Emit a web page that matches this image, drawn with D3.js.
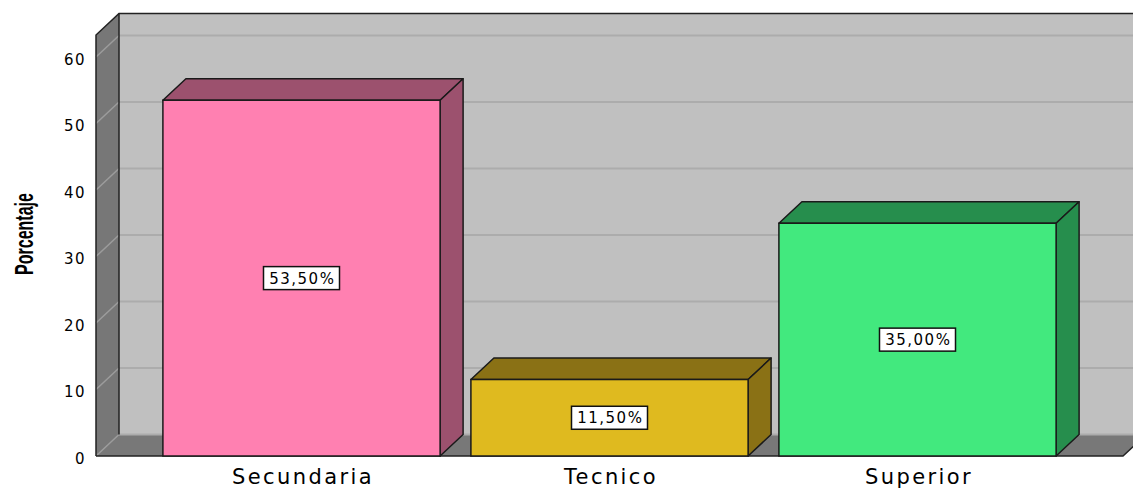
<!DOCTYPE html>
<html>
<head>
<meta charset="utf-8">
<script src="https://cdn.jsdelivr.net/npm/d3@7"></script>
<style>
    body { margin: 0; background: #fff; }
    svg { display: block; }
    text { font-family: "DejaVu Sans", Verdana, sans-serif; fill: #000; }
</style>
</head>
<body>
<script>
var categories = ["Secundaria", "Tecnico", "Superior"];
var percentages = [53.5, 11.5, 35.0];
var valueLabels = ["53,50%", "11,50%", "35,00%"];
var yTicks = [0, 10, 20, 30, 40, 50, 60];
var yTitle = "Porcentaje";

var width = 1133,
    height = 489;

// front plane and 3D depth offset
var left = 96, right = 1123, bottom = 456, wallTopValue = 63.3;
var dx = 23, dy = -21.5;

var frontColor = d3.scaleOrdinal().domain(categories).range(["#ff80b1", "#dfba1f", "#42e97e"]);
var sideColor = d3.scaleOrdinal().domain(categories).range(["#9c516e", "#8a7115", "#268e4d"]);

var x = d3.scaleBand()
    .domain(categories)
    .range([147.5, 1071.5])
    .paddingInner(0.1)
    .paddingOuter(0.05);

var y = d3.scaleLinear()
    .domain([0, 60])
    .range([bottom, 57]);

var svg = d3.select("body").append("svg")
    .attr("width", width)
    .attr("height", height);

var wallTop = y(wallTopValue);

function pts(a) {
    return a.map(function (p) { return p.join(","); }).join(" ");
}

// back wall
svg.append("polygon")
    .attr("points", pts([[left + dx, wallTop + dy], [right + dx, wallTop + dy], [right + dx, bottom + dy], [left + dx, bottom + dy]]))
    .attr("fill", "#c0c0c0");

// left wall
svg.append("polygon")
    .attr("points", pts([[left, wallTop], [left + dx, wallTop + dy], [left + dx, bottom + dy], [left, bottom]]))
    .attr("fill", "#777777");

// floor
svg.append("polygon")
    .attr("points", pts([[left, bottom], [right, bottom], [right + dx, bottom + dy], [left + dx, bottom + dy]]))
    .attr("fill", "#787878");

// grid lines on back wall and left wall
svg.selectAll(".grid")
    .data(yTicks)
    .enter().append("line")
    .attr("class", "grid")
    .attr("x1", left + dx)
    .attr("x2", right + dx)
    .attr("y1", function (d) { return y(d) + dy; })
    .attr("y2", function (d) { return y(d) + dy; })
    .attr("stroke", "#acacac")
    .attr("stroke-width", 2);

svg.selectAll(".sidegrid")
    .data(yTicks)
    .enter().append("line")
    .attr("class", "sidegrid")
    .attr("x1", left)
    .attr("x2", left + dx)
    .attr("y1", function (d) { return y(d); })
    .attr("y2", function (d) { return y(d) + dy; })
    .attr("stroke", "#9c9c9c")
    .attr("stroke-width", 1.5);

// frame edges
svg.append("path")
    .attr("d", "M" + left + "," + bottom + "L" + left + "," + wallTop + "L" + (left + dx) + "," + (wallTop + dy) +
        "L" + (right + dx + 20) + "," + (wallTop + dy))
    .attr("fill", "none")
    .attr("stroke", "#222")
    .attr("stroke-width", 1.5);

svg.append("line")
    .attr("x1", left + dx).attr("x2", left + dx)
    .attr("y1", wallTop + dy).attr("y2", bottom + dy)
    .attr("stroke", "#222")
    .attr("stroke-width", 1.5);

svg.append("path")
    .attr("d", "M" + left + "," + bottom + "L" + right + "," + bottom + "L" + (right + dx) + "," + (bottom + dy))
    .attr("fill", "none")
    .attr("stroke", "#222")
    .attr("stroke-width", 1.5);

// bars
var bars = svg.selectAll(".bar")
    .data(categories)
    .enter().append("g")
    .attr("class", "bar");

bars.append("polygon")
    .attr("points", function (d, i) {
        var x0 = x(d), x1 = x(d) + x.bandwidth(), yt = y(percentages[i]);
        return pts([[x0, yt], [x0 + dx, yt + dy], [x1 + dx, yt + dy], [x1, yt]]);
    })
    .attr("fill", function (d) { return sideColor(d); })
    .attr("stroke", "#1a1a1a")
    .attr("stroke-width", 1.5)
    .attr("stroke-linejoin", "round");

bars.append("polygon")
    .attr("points", function (d, i) {
        var x1 = x(d) + x.bandwidth(), yt = y(percentages[i]);
        return pts([[x1, yt], [x1 + dx, yt + dy], [x1 + dx, bottom + dy], [x1, bottom]]);
    })
    .attr("fill", function (d) { return sideColor(d); })
    .attr("stroke", "#1a1a1a")
    .attr("stroke-width", 1.5)
    .attr("stroke-linejoin", "round");

bars.append("rect")
    .attr("x", function (d) { return x(d); })
    .attr("y", function (d, i) { return y(percentages[i]); })
    .attr("width", x.bandwidth())
    .attr("height", function (d, i) { return bottom - y(percentages[i]); })
    .attr("fill", function (d) { return frontColor(d); })
    .attr("stroke", "#1a1a1a")
    .attr("stroke-width", 1.5);

// value labels
var labels = bars.append("g")
    .attr("transform", function (d, i) {
        return "translate(" + (x(d) + x.bandwidth() / 2) + "," + ((y(percentages[i]) + bottom) / 2) + ")";
    });

labels.append("rect")
    .attr("x", -38)
    .attr("y", -11.5)
    .attr("width", 76)
    .attr("height", 23)
    .attr("fill", "#fff")
    .attr("stroke", "#111")
    .attr("stroke-width", 1.5);

labels.append("text")
    .attr("text-anchor", "middle")
    .attr("dx", 0.8)
    .attr("y", 5.5)
    .style("font-size", "15px")
    .style("letter-spacing", "1.5px")
    .text(function (d, i) { return valueLabels[i]; });

// category axis labels
svg.selectAll(".cat")
    .data(categories)
    .enter().append("text")
    .attr("class", "cat")
    .attr("x", function (d) { return x(d) + x.bandwidth() / 2 + 1.5; })
    .attr("y", 484)
    .attr("text-anchor", "middle")
    .style("font-size", "21px")
    .style("letter-spacing", "2.4px")
    .text(function (d) { return d; });

// y tick labels
svg.selectAll(".tick")
    .data(yTicks)
    .enter().append("text")
    .attr("class", "tick")
    .attr("x", 86)
    .attr("y", function (d) { return y(d) + 7.5; })
    .attr("text-anchor", "end")
    .style("font-size", "15px")
    .style("letter-spacing", "1.5px")
    .text(function (d) { return d; });

// y title
svg.append("text")
    .attr("transform", "translate(33,234) rotate(-90)")
    .attr("text-anchor", "middle")
    .attr("textLength", 82)
    .attr("lengthAdjust", "spacingAndGlyphs")
    .style("font-family", "'Liberation Sans', Arial, sans-serif")
    .style("font-size", "25px")
    .style("font-weight", "bold")
    .text(yTitle);
</script>
</body>
</html>
